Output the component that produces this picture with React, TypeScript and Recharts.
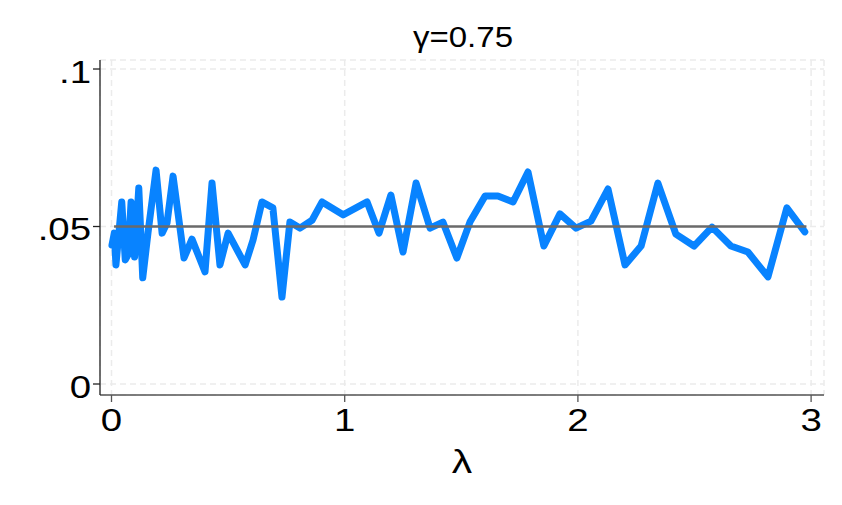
import { LineChart, Line, XAxis, YAxis, CartesianGrid } from 'recharts'

// λ grid and estimated rejection rate
const lambdas = [
  0.002, 0.012, 0.019, 0.044, 0.059, 0.071, 0.084, 0.099, 0.117, 0.134, 0.157, 0.191, 0.217, 0.238,
  0.264, 0.311, 0.345, 0.401, 0.431, 0.465, 0.5, 0.573, 0.607, 0.645, 0.692, 0.731, 0.765, 0.808,
  0.86, 0.903, 0.993, 1.096, 1.147, 1.198, 1.25, 1.306, 1.366, 1.421, 1.481, 1.537, 1.602, 1.657,
  1.722, 1.786, 1.854, 1.923, 1.992, 2.056, 2.129, 2.202, 2.271, 2.343, 2.42, 2.498, 2.575, 2.656,
  2.729, 2.815, 2.896, 2.973,
]
const rates = [
  0.0441, 0.0479, 0.0378, 0.0578, 0.0394, 0.041, 0.0578, 0.0403, 0.0622, 0.0337, 0.0483, 0.0679,
  0.0479, 0.0511, 0.066, 0.04, 0.046, 0.0356, 0.0638, 0.0378, 0.0479, 0.0378, 0.0457, 0.0578,
  0.0559, 0.0276, 0.0514, 0.0495, 0.052, 0.0578, 0.0537, 0.0578, 0.0479, 0.06, 0.0419, 0.0638,
  0.0495, 0.0514, 0.04, 0.0514, 0.0597, 0.0597, 0.0578, 0.0673, 0.0438, 0.054, 0.0495, 0.0517,
  0.0619, 0.0378, 0.0438, 0.0638, 0.0476, 0.0438, 0.0498, 0.0438, 0.0419, 0.034, 0.0559, 0.0483,
]

// nominal level line
const nominalLambdas = [0.011, 2.98]
const nominalLevel = [0.05, 0.05]

const xTicks = [0, 1, 2, 3]
const yTicks = [0, 0.05, 0.1]
const yTickLabels = ['0', '.05', '.1']

const title = 'γ=0.75'
const xLabel = 'λ'

const FONT = '"Liberation Sans", Arial, Helvetica, sans-serif'
const STRETCH = 1.2

const series = lambdas.map((lam, i) => ({ lam, rate: rates[i] }))
const nominal = nominalLambdas.map((lam, i) => ({ lam, rate: nominalLevel[i] }))

function YTick(props: any) {
  const { x, y, payload } = props
  const idx = yTicks.indexOf(payload.value)
  return (
    <text
      transform={`translate(${x} ${y + 13.5}) scale(${STRETCH} 1)`}
      textAnchor="end"
      fontSize={32}
      fontFamily={FONT}
      fill="#000"
    >
      {idx >= 0 ? yTickLabels[idx] : payload.value}
    </text>
  )
}

function XTick(props: any) {
  const { x, y, payload } = props
  return (
    <text
      transform={`translate(${x} ${y + 27}) scale(${STRETCH} 1)`}
      textAnchor="middle"
      fontSize={32}
      fontFamily={FONT}
      fill="#000"
    >
      {payload.value}
    </text>
  )
}

function XLabel(props: any) {
  const vb = props.viewBox
  return (
    <text
      transform={`translate(${vb.x + vb.width / 2} ${vb.y + 78}) scale(${STRETCH} 1)`}
      textAnchor="middle"
      fontSize={34}
      fontFamily={FONT}
      fill="#000"
    >
      {xLabel}
    </text>
  )
}

export default function App() {
  return (
    <div style={{ position: 'absolute', left: 0, top: 0, width: 842, height: 505, background: '#fff' }}>
      <LineChart width={842} height={505} margin={{ top: 60, right: 18, left: 0, bottom: 0 }}>
        <CartesianGrid stroke="#ebebeb" strokeWidth={1.5} strokeDasharray="6 4" />
        <XAxis
          type="number"
          dataKey="lam"
          domain={[-0.0493, 3.0553]}
          ticks={xTicks}
          allowDataOverflow
          height={110}
          tickSize={7}
          stroke="#555"
          strokeWidth={1.3}
          tick={<XTick />}
          label={<XLabel />}
        />
        <YAxis
          type="number"
          dataKey="rate"
          domain={[-0.00349, 0.10286]}
          ticks={yTicks}
          allowDataOverflow
          width={100}
          tickSize={7}
          stroke="#222"
          strokeWidth={1.3}
          tick={<YTick />}
        />
        <Line
          data={series}
          dataKey="rate"
          stroke="#0883ff"
          strokeWidth={7}
          strokeLinejoin="round"
          strokeLinecap="round"
          dot={false}
          isAnimationActive={false}
        />
        <Line
          data={nominal}
          dataKey="rate"
          stroke="#6a6a6a"
          strokeWidth={2.5}
          dot={false}
          isAnimationActive={false}
        />
      </LineChart>
      <svg
        width={842}
        height={505}
        style={{ position: 'absolute', left: 0, top: 0, pointerEvents: 'none' }}
      >
        <text
          transform="translate(463 47) scale(1.1 1)"
          textAnchor="middle"
          fontSize={30}
          fontFamily={FONT}
          fill="#000"
        >
          {title}
        </text>
      </svg>
    </div>
  )
}
